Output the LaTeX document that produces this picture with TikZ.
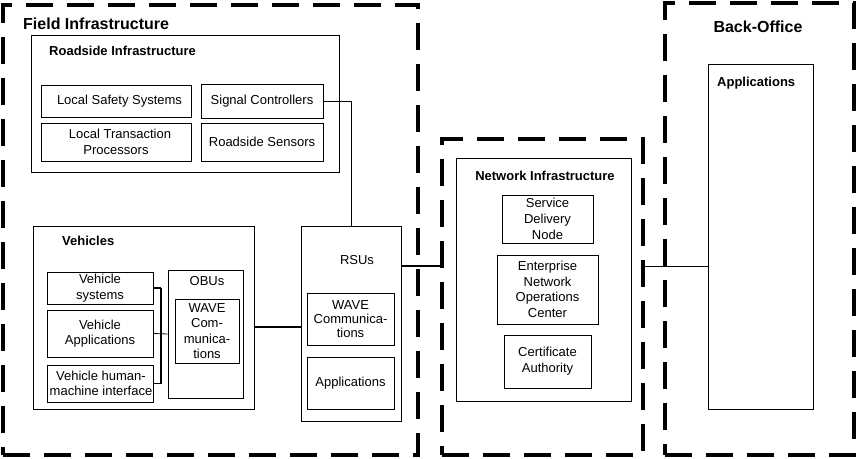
\documentclass[tikz,border=0pt]{standalone}
\usepackage{fontspec}
\setmainfont{Liberation Sans}
\newcommand\txtsize{\fontsize{13}{15.5}\selectfont}
\newcommand\bigtitle{\fontsize{16}{19}\selectfont\bfseries}
\begin{document}
\begin{tikzpicture}[x=1pt,y=-1pt,
  box/.style={draw, line width=0.8pt, inner sep=0pt, align=center, font=\txtsize},
  zone/.style={draw, line width=3.5pt, dash pattern=on 27pt off 14pt, inner sep=0pt},
  title/.style={anchor=west, inner sep=0pt, font=\txtsize\bfseries},
  wire/.style={line width=0.8pt},
  heavywire/.style={line width=1.8pt}]
\useasboundingbox[fill=white] (0,0) rectangle (856,458);
% zones
\node[zone, minimum width=415, minimum height=450] (field) at (210.5,230) {};
\node[zone, minimum width=201, minimum height=316] (netz) at (542.5,297) {};
\node[zone, minimum width=189, minimum height=452] (bo) at (759.5,229) {};
\node[anchor=west, inner sep=0pt, font=\bigtitle] (fieldt) at (23,23.5) {Field Infrastructure};
\node[inner sep=0pt, font=\bigtitle] (bot) at (758,27) {Back-Office};
% roadside
\node[box, minimum width=308, minimum height=137] (road) at (185,103.5) {};
\node[title] (roadt) at (49,51) {Roadside Infrastructure};
\node[box, minimum width=150, minimum height=32] (lss) at (116,101) {\hspace*{7pt}Local Safety Systems};
\node[box, minimum width=122, minimum height=34] (sc) at (262,101) {Signal Controllers};
\node[box, minimum width=150, minimum height=38] (ltp) at (116,142) {\hspace*{8pt}Local Transaction\\Processors};
\node[box, minimum width=122, minimum height=38] (rs) at (262,142) {Roadside Sensors};
% vehicles
\node[box, minimum width=221, minimum height=183] (veh) at (143.5,317.5) {};
\node[title] (veht) at (62,241) {Vehicles};
\node[box, minimum width=106, minimum height=32] (vs) at (100,288) {Vehicle\\systems};
\node[box, minimum width=106, minimum height=47] (va) at (100,333.5) {Vehicle\\Applications};
\node[box, minimum width=106, minimum height=37] (vhmi) at (100,383.5) {};
\node[inner sep=0pt, align=center, font=\txtsize] (vhmit) at (101,383.5) {Vehicle human-\\machine interface};
\node[box, minimum width=75, minimum height=128] (obu) at (205.5,334) {};
\node[inner sep=0pt, font=\txtsize] (obut) at (207,281) {OBUs};
\node[box, minimum width=64, minimum height=64] (obuw) at (207,331) {WAVE\\Com-\\munica-\\tions};
% RSUs
\node[box, minimum width=100, minimum height=195] (rsu) at (351,323.5) {};
\node[inner sep=0pt, font=\txtsize] (rsut) at (357,260) {RSUs};
\node[box, minimum width=87, minimum height=52, font=\fontsize{13}{14}\selectfont] (rsuw) at (350.5,319) {WAVE\\Communica-\\tions};
\node[box, minimum width=87, minimum height=52] (rsua) at (350.5,383) {Applications};
% network
\node[box, minimum width=175, minimum height=243] (net) at (543.5,279.5) {};
\node[inner sep=0pt, font=\txtsize\bfseries] (nett) at (545,176) {Network Infrastructure};
\node[box, minimum width=91, minimum height=48, font=\fontsize{13}{16}\selectfont] (sdn) at (547.5,219) {Service\\Delivery\\Node};
\node[box, minimum width=101, minimum height=69] (enoc) at (547.5,289.5) {Enterprise\\Network\\Operations\\Center};
\node[box, minimum width=87, minimum height=53, font=\fontsize{13}{16}\selectfont] (ca) at (547.5,361.5) {Certificate\\Authority};
% back office
\node[box, minimum width=105, minimum height=345] (boa) at (760.5,236.5) {};
\node[title] (boat) at (717,83) {Applications};
% connectors
\coordinate (busx) at (161,0);
\coordinate (vehy) at (0,327);
\coordinate (nety) at (0,266);
\draw[wire] (sc.east) -| (rsu.north);
\draw[heavywire] (vs.east) -- (busx |- vs.east);
\draw[heavywire] (vhmi.east) -- (busx |- vhmi.east);
\draw[line width=1.2pt] (busx |- vs.east) -- (busx |- vhmi.east);
\draw[wire] (va.east) -- (obu.west);
\draw[heavywire] (veh.east |- vehy) -- (rsu.west |- vehy);
\draw[line width=1.5pt] (rsu.east |- nety) -- (netz.west |- nety);
\draw[wire] (netz.east |- nety) -- (boa.west |- nety);
\end{tikzpicture}
\end{document}
